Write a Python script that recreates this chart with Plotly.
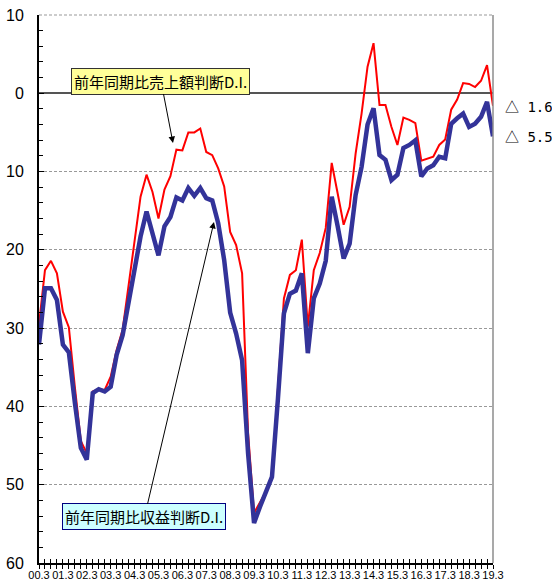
import plotly.graph_objects as go

# quarterly index 2000.3 .. 2019.3
year_labels = ["00.3", "01.3", "02.3", "03.3", "04.3", "05.3", "06.3", "07.3", "08.3", "09.3",
               "10.3", "11.3", "12.3", "13.3", "14.3", "15.3", "16.3", "17.3", "18.3", "19.3"]

sales_di = [-29.5, -22.6, -21.4, -23.0, -27.9, -29.9, -37.5, -44.4, -46.0, -38.1,
            -37.8, -37.9, -36.2, -32.8, -30.2, -24.7, -18.6, -13.2, -10.4, -12.6,
            -16.0, -12.3, -10.6, -7.2, -7.3, -5.0, -5.0, -4.5, -7.5, -7.9,
            -9.6, -11.9, -17.7, -19.4, -23.0, -43.4, -53.6, -52.2, -50.9, -49.2,
            -37.0, -26.2, -23.2, -22.6, -18.7, -29.8, -22.6, -20.4, -17.2, -8.9,
            -12.8, -16.8, -14.5, -7.7, -2.6, 3.4, 6.4, -1.5, -1.5, -4.3,
            -6.6, -3.1, -3.4, -3.8, -8.6, -8.3, -8.1, -6.6, -5.9, -2.1,
            -0.8, 1.3, 1.2, 0.8, 1.6, 3.6, -1.6]

profit_di = [-32.1, -24.9, -24.9, -26.4, -32.1, -33.1, -39.5, -45.3, -46.8, -38.3,
             -37.8, -38.1, -37.5, -33.4, -30.9, -26.8, -22.2, -18.3, -15.1, -17.9,
             -20.7, -17.0, -15.8, -13.3, -13.7, -12.1, -13.1, -12.1, -13.4, -13.7,
             -16.6, -21.3, -28.0, -30.7, -34.1, -46.0, -54.9, -52.8, -50.9, -49.0,
             -39.0, -28.1, -25.6, -25.2, -23.0, -33.2, -26.2, -24.3, -21.4, -13.2,
             -17.0, -21.1, -19.2, -13.0, -9.4, -4.0, -1.9, -7.9, -8.5, -11.1,
             -10.4, -7.0, -6.6, -6.0, -10.6, -9.6, -9.2, -8.1, -8.3, -3.9,
             -3.2, -2.6, -4.3, -3.9, -3.0, -1.1, -5.5]

y_ticks = [10, 0, -10, -20, -30, -40, -50, -60]
y_tick_text = [str(abs(v)) for v in y_ticks]

series_names = ["前年同期比売上額判断D.I.", "前年同期比収益判断D.I."]

n = len(sales_di)
xs = list(range(n))
x_ticktext = [year_labels[i // 4] if i % 4 == 0 else "" for i in xs]

fig = go.Figure()
fig.add_trace(go.Scatter(x=xs, y=sales_di, mode="lines", name=series_names[0],
                         line=dict(color="#ff0000", width=2), xaxis="x", yaxis="y"))
fig.add_trace(go.Scatter(x=xs, y=profit_di, mode="lines", name=series_names[1],
                         line=dict(color="#333399", width=4.5), xaxis="x2", yaxis="y"))

tickfont = dict(family="Arial, Liberation Sans, sans-serif", size=11, color="black")

fig.update_layout(
    width=552, height=581,
    margin=dict(l=39, r=59, t=15, b=18, autoexpand=False),
    plot_bgcolor="white", paper_bgcolor="white",
    showlegend=False,
    xaxis=dict(range=[0, n - 1], tickmode="array", tickvals=xs, ticktext=x_ticktext,
               ticks="outside", ticklen=4, tickwidth=1, tickcolor="black",
               showline=True, linecolor="black", linewidth=1.5, automargin=False,
               showgrid=False, zeroline=False, tickfont=tickfont, tickangle=0,
               ticklabelstandoff=-3),
    xaxis2=dict(range=[0, n - 1], overlaying="x", matches="x", anchor="y", side="bottom",
                tickmode="array", tickvals=xs, ticks="inside", ticklen=4, tickwidth=1,
                tickcolor="black", showticklabels=False, showgrid=False, zeroline=False,
                showline=False, automargin=False),
    yaxis=dict(range=[-60, 10], tickmode="array", tickvals=y_ticks, ticktext=y_tick_text,
               ticks="inside", ticklen=5, tickcolor="black", automargin=False,
               minor=dict(tickvals=list(range(-60, 11, 2)), ticks="inside", ticklen=4,
                          tickcolor="black", showgrid=False),
               showgrid=True, gridcolor="#999999", griddash="3px,2px", gridwidth=1,
               zeroline=True, zerolinecolor="#555555", zerolinewidth=2,
               showline=True, linecolor="black", linewidth=2,
               tickfont=dict(family="Arial, Liberation Sans, sans-serif", size=16, color="black"),
               ticklabelstandoff=10),
)

# plot-area frame: grey right edge and dotted top edge
fig.add_shape(type="line", xref="paper", yref="paper", x0=1, x1=1, y0=0, y1=1,
              line=dict(color="#8c8c8c", width=1.5))
fig.add_shape(type="line", xref="paper", yref="paper", x0=0, x1=1, y0=1, y1=1,
              line=dict(color="#999999", width=1, dash="3px,2px"))

jp_font = dict(family="Noto Sans CJK JP, sans-serif", size=15, color="black")

fig.add_annotation(x=22.43, y=-6.35, xref="x", yref="y", text=series_names[0],
                   showarrow=True, ax=-12, ay=-62, arrowhead=2, arrowsize=1.3,
                   arrowwidth=1, arrowcolor="black", bgcolor="#ffff99",
                   bordercolor="#333333", borderwidth=1, borderpad=2, font=jp_font)
fig.add_annotation(x=29.29, y=-16.44, xref="x", yref="y", text=series_names[1],
                   showarrow=True, ax=-69.5, ay=295, arrowhead=2, arrowsize=1.3,
                   arrowwidth=1, arrowcolor="black", bgcolor="#ccffff",
                   bordercolor="#000080", borderwidth=1, borderpad=2, font=jp_font)

for v in (sales_di[-1], profit_di[-1]):
    label = ('<span style="font-family:Noto Sans CJK JP">△</span> '
             '<span style="font-family:DejaVu Sans Mono">' + f"{abs(v):.1f}" + '</span>')
    fig.add_annotation(x=n - 1, y=v, xref="x", yref="y", text=label, showarrow=False,
                       xanchor="left", xshift=10,
                       font=dict(family="DejaVu Sans Mono, monospace", size=14, color="black"))

fig.write_html("out.html", config={"displayModeBar": False},
               post_script="document.body.style.margin='0';document.body.style.overflow='hidden';")
